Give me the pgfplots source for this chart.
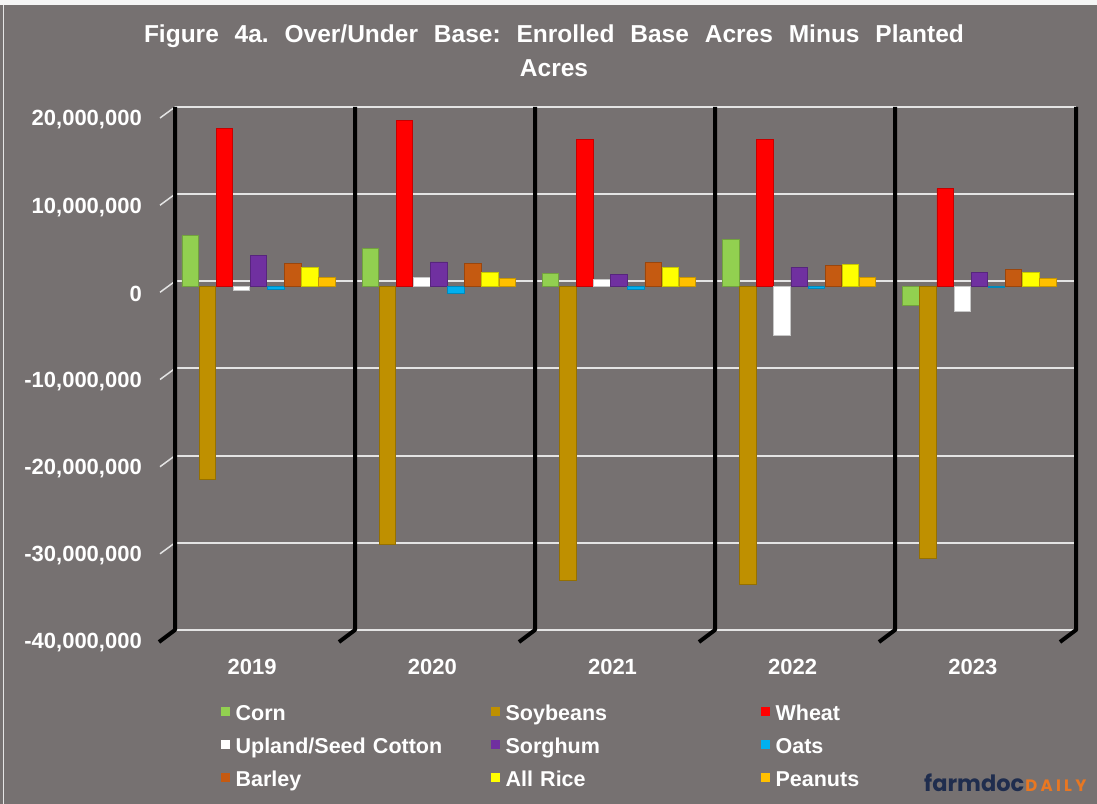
\documentclass[border=0pt]{standalone}
\usepackage{fontspec}
\setmainfont{Liberation Sans}
\newfontfamily\poppins{Poppins}
\newfontfamily\poppinsls{Poppins}[LetterSpace=20]
\usepackage{pgfplots}
\usepackage{pgfplotstable}
\pgfplotsset{compat=1.18}

\definecolor{bg}{HTML}{767171}
\definecolor{corncol}{HTML}{92D050}
\definecolor{soycol}{HTML}{BF9000}
\definecolor{wheatcol}{HTML}{FF0000}
\definecolor{cottoncol}{HTML}{FFFFFF}
\definecolor{sorgcol}{HTML}{7030A0}
\definecolor{oatscol}{HTML}{00B0F0}
\definecolor{barleycol}{HTML}{C55A11}
\definecolor{ricecol}{HTML}{FFFF00}
\definecolor{peancol}{HTML}{FFC000}
\definecolor{gridc}{HTML}{E4E4E4}
\definecolor{navy}{HTML}{1F2D4E}
\definecolor{orng}{HTML}{E87722}

\pgfplotstableread{
x corn soy wheat cotton sorghum oats barley rice peanuts
0 5800000 -22200000 18100000 -500000 3500000 -300000 2600000 2200000 1000000
1 4300000 -29600000 19000000 1000000 2800000 -800000 2600000 1600000 900000
2 1500000 -33700000 16800000 800000 1400000 -400000 2700000 2200000 1000000
3 5400000 -34200000 16800000 -5600000 2200000 -200000 2400000 2500000 1000000
4 -2200000 -31200000 11200000 -2900000 1600000 -100000 1900000 1600000 900000
}\data

\pgfplotsset{
  cyl/.style={fill=#1, draw=#1!78!black, line width=0.8bp},
  ybar legend/.style={legend image code/.code={\fill[##1, draw=none] (0bp,-1bp) rectangle (9bp,8bp);}},
}

\begin{document}
\frenchspacing
\begin{tikzpicture}
\fill[bg] (0,0) rectangle (1097bp,804bp);
\useasboundingbox (0,0) rectangle (1097bp,804bp);
\fill[white!92!gray] (0,799bp) rectangle (1097bp,804bp);
\draw[white!80!gray, line width=1.2bp] (3.5bp,0) -- (3.5bp,799bp);

\node[anchor=base, text=white, inner sep=0pt, font=\bfseries\fontsize{24.5bp}{28bp}\selectfont] at (554bp,761bp)
  {\frenchspacing\makebox[820bp][s]{Figure 4a. Over/Under Base: Enrolled Base Acres Minus Planted}};
\node[anchor=base, text=white, inner sep=0pt, font=\bfseries\fontsize{24.5bp}{28bp}\selectfont] at (554bp,727.5bp) {Acres};

% frame axis: gridlines and tick labels
\begin{axis}[
  at={(175bp,174bp)}, anchor=south west, scale only axis,
  width=901bp, height=523bp,
  xmin=-0.464, xmax=4.536, ymin=-40000000, ymax=20000000,
  ytick={-40000000,-30000000,-20000000,-10000000,0,10000000,20000000},
  xtick={0,1,2,3,4}, xticklabels={2019,2020,2021,2022,2023},
  scaled y ticks=false,
  yticklabel style={/pgf/number format/fixed, /pgf/number format/precision=0,
     /pgf/number format/1000 sep={,}, /pgf/number format/assume math mode=true},
  yticklabel style={anchor=east, inner sep=0pt, xshift=-33bp, yshift=-13bp, text=white,
     font=\bfseries\fontsize{22bp}{22bp}\selectfont},
  xticklabel style={anchor=center, inner sep=0pt, yshift=-37bp, xshift=-6.5bp, text=white,
     font=\bfseries\fontsize{22bp}{22bp}\selectfont},
  ymajorgrids, grid style={gridc, line width=2bp},
  axis line style={draw=none}, major tick length=0pt, tick style={draw=none},
]
\end{axis}

\foreach \yy in {697,609.8,522.7,435.5,348.3,261.2}
  \draw[gridc, line width=1.5bp] (160bp,{(\yy-11)*1bp}) -- (175bp,{\yy*1bp});
\foreach \xx in {175,355,535,715,895,1076}
  \draw[black, line width=4bp, line join=round] ({\xx*1bp},697bp) -- ({\xx*1bp},174bp) -- ({(\xx-16)*1bp},162bp);

% bars
\begin{axis}[
  at={(175bp,169bp)}, anchor=south west, scale only axis,
  width=901bp, height=523bp,
  xmin=-0.464, xmax=4.536, ymin=-40000000, ymax=20000000,
  hide axis,
  ybar=0.6bp, bar width=16.5bp,
  legend columns=3,
  legend cell align=left,
  legend style={at={(axis description cs:0.0506,-0.132)}, anchor=north west, draw=none, fill=none,
    inner sep=0pt, outer sep=0pt, row sep=12bp, text=white,
    font=\bfseries\fontsize{21.5bp}{22bp}\selectfont,
    nodes={inner sep=0pt, text height=16bp, text depth=5bp, text width=240bp},
    /tikz/every odd column/.style={column sep=6bp},
    /tikz/every even column/.style={column sep=15bp}},
]
\addplot[cyl=corncol] table[x=x,y=corn]{\data};
\addplot[cyl=soycol] table[x=x,y=soy]{\data};
\addplot[cyl=wheatcol] table[x=x,y=wheat]{\data};
\addplot[cyl=cottoncol] table[x=x,y=cotton]{\data};
\addplot[cyl=sorgcol] table[x=x,y=sorghum]{\data};
\addplot[cyl=oatscol] table[x=x,y=oats]{\data};
\addplot[cyl=barleycol] table[x=x,y=barley]{\data};
\addplot[cyl=ricecol] table[x=x,y=rice]{\data};
\addplot[cyl=peancol] table[x=x,y=peanuts]{\data};
\legend{Corn,Soybeans,Wheat,Upland/Seed Cotton,Sorghum,Oats,Barley,All Rice,Peanuts}
\end{axis}

\node[anchor=base west, inner sep=0pt] at (924bp,13bp)
  {\poppins\bfseries\fontsize{22.5bp}{22.5bp}\selectfont\textcolor{navy}{farmdoc}\hspace{1bp}\poppinsls\bfseries\fontsize{16.5bp}{16.5bp}\selectfont\textcolor{orng}{DAILY}};
\end{tikzpicture}
\end{document}
